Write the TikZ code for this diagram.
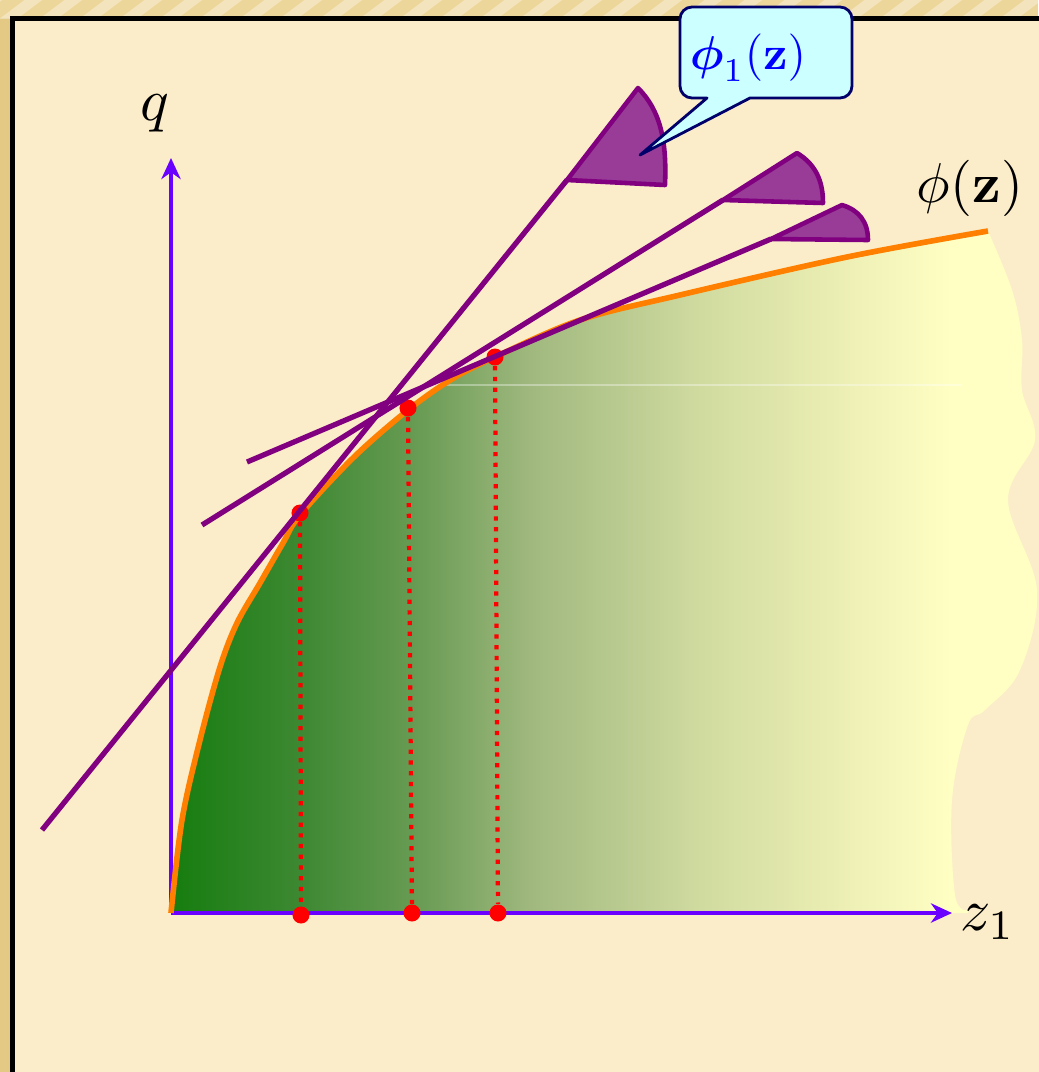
\documentclass[tikz,border=0pt]{standalone}
\usepackage{amsmath}
\usetikzlibrary{arrows.meta}
\definecolor{bgout}{HTML}{EDD69A}
\definecolor{bgleft}{HTML}{E3C983}
\definecolor{bgin}{HTML}{FBEDC9}
\definecolor{axiscol}{HTML}{6A00FF}
\definecolor{curvecol}{HTML}{FF8000}
\definecolor{tancol}{HTML}{800080}
\definecolor{flagcol}{HTML}{983C98}
\definecolor{dotcol}{HTML}{FF0000}
\definecolor{callfill}{HTML}{CCFFFF}
\definecolor{callborder}{HTML}{00006B}
\definecolor{calltext}{HTML}{0000FF}
\definecolor{g0}{HTML}{167D0F}
\definecolor{g1}{HTML}{3D8832}
\definecolor{g2}{HTML}{6A9C55}
\definecolor{g3}{HTML}{A0B87E}
\definecolor{g4}{HTML}{D0DBA0}
\definecolor{g5}{HTML}{EEF0B5}
\definecolor{g6}{HTML}{FFFFC4}
\pgfdeclarehorizontalshading{fade}{100bp}{color(0bp)=(g0); color(25bp)=(g0); color(32.4bp)=(g1); color(39.4bp)=(g2); color(45.7bp)=(g3); color(55.5bp)=(g4); color(64.2bp)=(g5); color(70bp)=(g6); color(100bp)=(g6)}
\tikzset{
  axisline/.style={draw=axiscol, line width=1.35pt, -{Stealth[length=6pt,width=5.5pt]}},
  curveline/.style={draw=curvecol, line width=1.6pt, line join=round},
  tangent/.style={draw=tancol, line width=1.5pt},
  flagshape/.style={fill=flagcol, draw=tancol, line width=1.3pt, line join=round},
  reddot/.style={circle, fill=dotcol, inner sep=0pt, minimum size=0.17cm},
  dropline/.style={draw=dotcol, line width=1.2pt, dash pattern=on 1.2pt off 1.85pt},
  bigtext/.style={inner sep=0pt},
}
\begin{document}
\begin{tikzpicture}[x=0.01cm,y=-0.01cm]
\useasboundingbox (0,0) rectangle (1038,1072);
% outer background
\fill[bgout] (0,0) rectangle (1038,1072);
\fill[bgleft] (0,18) rectangle (12,1072);
\begin{scope}
  \clip (0,0) rectangle (1038,18);
  \foreach \s in {0,40,...,1120}{
    \draw[white, opacity=0.35, line width=3pt] (\s-60,40) -- (\s+20,-20);
  }
\end{scope}
% inner panel
\fill[bgin] (12.5,18.5) rectangle (1040,1075);
\draw[black, line width=1.15pt] (1040,18.5) -- (12.5,18.5) -- (12.5,1075);
% shaded area under curve
\shade[shading=fade] plot[smooth, tension=0.55] coordinates {(171,913) (182,820) (200,740) (220,667) (237,623) (260,583) (283,543) (300,515) (354,457) (408,410) (452,379) (495,357) (580,320) (680,295) (847,257) (988,231)}
  -- plot[smooth, tension=0.6] coordinates {(988,231) (1012,290) (1022,340) (1022,390) (1035,440) (1008,500) (1037,590) (1020,670) (985,710) (968,725) (952,800) (955,895) (968,910)}
  -- (968,913) -- (171,913) -- cycle;
\draw[white, opacity=0.35, line width=0.4pt] (445,385) -- (962,385);
% axes
\coordinate (O) at (171,913);
\coordinate (ytop) at (171,158);
\coordinate (xend) at (952,913);
\draw[axisline] (O) -- (ytop);
\draw[axisline] (O) -- (xend);
\node[bigtext, anchor=center] (qlab) at (155,113) {\scalebox{1.7}{$q$}};
\node[bigtext, anchor=center] (zlab) at (988,922) {\scalebox{1.7}{$z_1$}};
% curve
\draw[curveline] plot[smooth, tension=0.55] coordinates {(171,913) (182,820) (200,740) (220,667) (237,623) (260,583) (283,543) (300,515) (354,457) (408,410) (452,379) (495,357) (580,320) (680,295) (847,257) (988,231)};
\node[bigtext, anchor=center] (philab) at (970,188) {\scalebox{1.6}{$\phi(\mathbf{z})$}};
% tangency points and drop lines
\node[reddot] (t1) at (300,513) {};
\node[reddot] (t2) at (408,408) {};
\node[reddot] (t3) at (495,357) {};
\node[reddot] (b1) at (301,915) {};
\node[reddot] (b2) at (412,913) {};
\node[reddot] (b3) at (498,913) {};
\draw[dropline] (t1) -- (b1);
\draw[dropline] (t2) -- (b2);
\draw[dropline] (t3) -- (b3);
% tangent lines with flags
\coordinate (s1) at (42,830);
\coordinate (f1) at (567,180);
\coordinate (s2) at (202,525);
\coordinate (f2) at (723,200);
\coordinate (s3) at (247,462);
\coordinate (f3) at (771,239);
\draw[tangent] (s1) -- (f1);
\draw[tangent] (s2) -- (f2);
\draw[tangent] (s3) -- (f3);
\draw[flagshape] (f1) -- (638,88) .. controls (660,110) and (667,140) .. (665,185) -- cycle;
\draw[flagshape] (f2) -- (797,153) .. controls (815,164) and (823,180) .. (823,203) -- cycle;
\draw[flagshape] (f3) -- (842,205) .. controls (859,210) and (868,222) .. (868,240) -- cycle;
% callout
\coordinate (tip) at (640,155);
\draw[fill=callfill, draw=callborder, line width=0.8pt, line join=round]
  (707,98) -- (tip) -- (750,98) [rounded corners=0.12cm] -- (852,98) -- (852,7) -- (680,7) -- (680,98) [sharp corners] -- cycle;
\node[text=calltext, inner sep=0pt, anchor=center] (calllab) at (748,58) {\scalebox{1.35}{$\boldsymbol{\phi}_1(\mathbf{z})$}};
\end{tikzpicture}
\end{document}
